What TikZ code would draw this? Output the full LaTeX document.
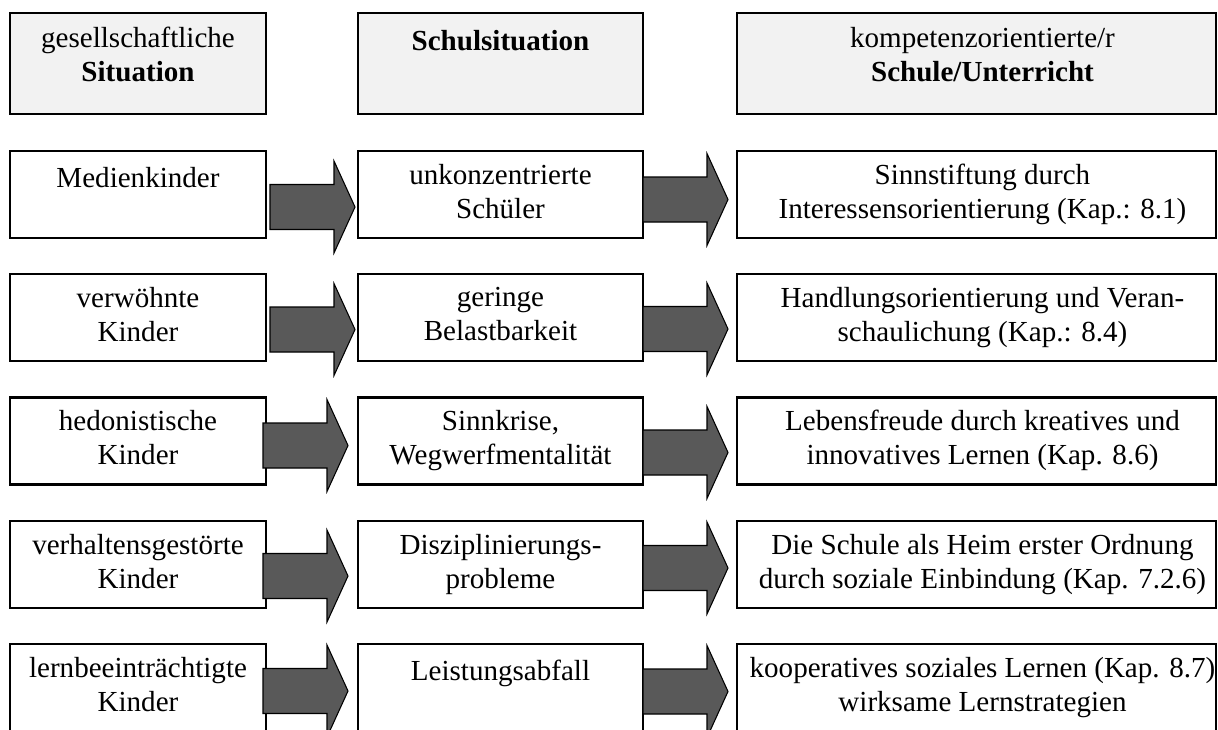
\documentclass[tikz,border=0pt]{standalone}
\usepackage{fontspec}
\setmainfont{Liberation Serif}
\usetikzlibrary{calc}
\definecolor{headfill}{RGB}{242,242,242}
\definecolor{arrowfill}{RGB}{89,89,89}
\tikzset{
  box/.style={draw=black, line width=1.7pt, rectangle, inner sep=0pt, outer sep=0pt, fill=white},
  headbox/.style={box, fill=headfill},
  col1/.style={minimum width=256*0.75pt},
  col2/.style={minimum width=285*0.75pt},
  col3/.style={minimum width=479*0.75pt},
  headh/.style={minimum height=101*0.75pt},
  rowh/.style={minimum height=87*0.75pt},
  txt/.style={anchor=north, inner sep=0pt, outer sep=0pt, align=center,
    font=\fontsize{21.8}{25.5}\selectfont, execute at begin node=\strut},
  arrowstyle/.style={draw=black, line width=0.8pt, fill=arrowfill, line join=miter},
  barrow/.pic={\draw[arrowstyle] (0,-22.5) -- (64,-22.5) -- (64,-46) -- (85,0) -- (64,46) -- (64,22.5) -- (0,22.5) -- cycle;}
}
\begin{document}
\begin{tikzpicture}[x=0.75pt,y=-0.75pt]
\useasboundingbox (0,0) rectangle (1218,729);
\clip (0,0) rectangle (1218,729);
% header boxes
\node[headbox,col1,headh] (h1) at (138,63.5) {};
\node[headbox,col2,headh] (h2) at (500.5,63.5) {};
\node[headbox,col3,headh] (h3) at (976.5,63.5) {};
\node[txt] (th1) at ($(h1.north)+(0,14)$) {gesellschaftliche\\\textbf{Situation}};
\node[txt] (th2) at ($(h2.north)+(0,14)$) {\textbf{Schulsituation}};
\node[txt] (th3) at ($(h3.north)+(6,14)$) {kompetenzorientierte/r\\\textbf{Schule/Unterricht}};
% rows
\foreach \r/\cy in {1/194.5,2/317.5,3/441,4/564.5,5/687.5}{
  \node[box,col1,rowh] (a\r) at (138,\cy) {};
  \node[box,col2,rowh] (b\r) at (500.5,\cy) {};
  \node[box,col3,rowh] (c\r) at (976.5,\cy) {};
}
\node[txt] (ta1) at ($(a1.north)+(0,13)$) {Medienkinder};
\node[txt] (tb1) at ($(b1.north)+(0,13)$) {unkonzentrierte\\Schüler};
\node[txt] (tc1) at ($(c1.north)+(6,13)$) {Sinnstiftung durch\\Interessensorientierung (Kap.: 8.1)};
\node[txt] (ta2) at ($(a2.north)+(0,13)$) {verwöhnte\\Kinder};
\node[txt] (tb2) at ($(b2.north)+(0,13)$) {geringe\\Belastbarkeit};
\node[txt] (tc2) at ($(c2.north)+(6,13)$) {Handlungsorientierung und Veran-\\schaulichung (Kap.: 8.4)};
\node[txt] (ta3) at ($(a3.north)+(0,13)$) {hedonistische\\Kinder};
\node[txt] (tb3) at ($(b3.north)+(0,13)$) {Sinnkrise,\\Wegwerfmentalität};
\node[txt] (tc3) at ($(c3.north)+(6,13)$) {Lebensfreude durch kreatives und\\innovatives Lernen (Kap. 8.6)};
\node[txt] (ta4) at ($(a4.north)+(0,13)$) {verhaltensgestörte\\Kinder};
\node[txt] (tb4) at ($(b4.north)+(0,13)$) {Disziplinierungs-\\probleme};
\node[txt] (tc4) at ($(c4.north)+(6,13)$) {Die Schule als Heim erster Ordnung\\durch soziale Einbindung (Kap. 7.2.6)};
\node[txt] (ta5) at ($(a5.north)+(0,13)$) {lernbeeinträchtigte\\Kinder};
\node[txt] (tb5) at ($(b5.north)+(0,13)$) {Leistungsabfall};
\node[txt] (tc5) at ($(c5.north)+(6,13)$) {kooperatives soziales Lernen (Kap. 8.7)\\wirksame Lernstrategien};
% block arrows
\pic at (270,207) {barrow};
\pic at (270,329.5) {barrow};
\pic at (263,445.5) {barrow};
\pic at (263,576) {barrow};
\pic at (263,691) {barrow};
\pic at (643,199.5) {barrow};
\pic at (643,329) {barrow};
\pic at (643,452.5) {barrow};
\pic at (643,568) {barrow};
\pic at (643,691.5) {barrow};
\end{tikzpicture}
\end{document}
